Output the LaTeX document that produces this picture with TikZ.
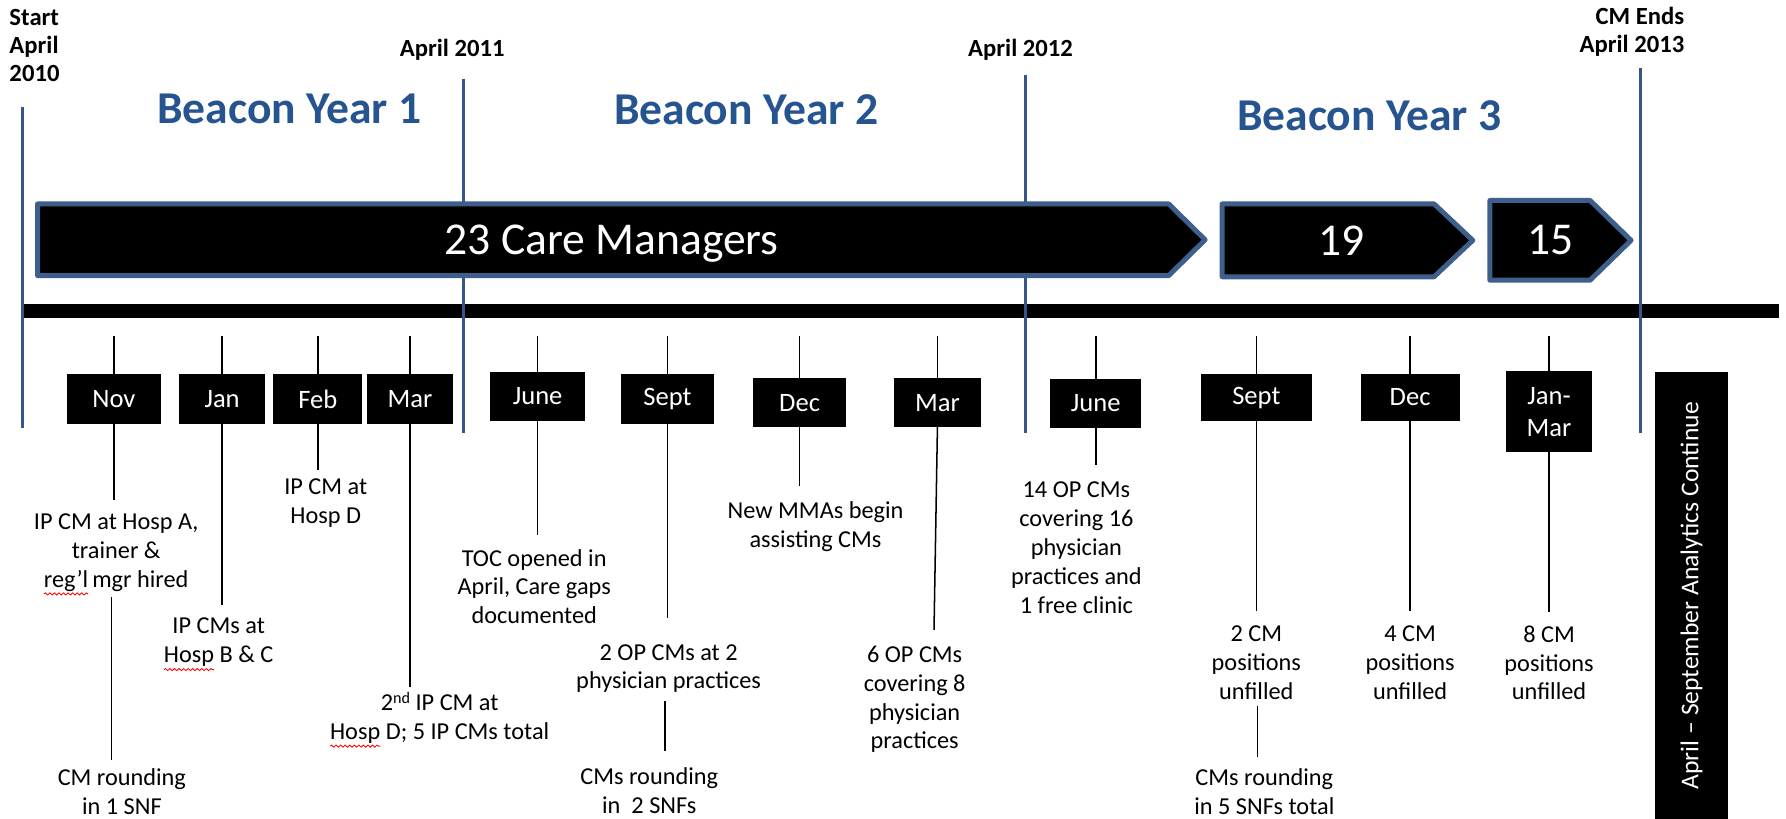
\documentclass[tikz,border=0pt]{standalone}
\usepackage{fontspec}
\setmainfont{Carlito}
\usetikzlibrary{calc,decorations.pathmorphing}
% red spell-check wave under a word
\newsavebox\wordbox
\newcommand\spellwave[1]{\sbox\wordbox{#1}\leavevmode\rlap{\tikz[overlay,baseline=0pt,x=1pt,y=1pt]
  \draw[red, line width=0.45pt, decorate, decoration={snake, amplitude=0.55pt, segment length=2.4pt}]
  (0,-3.6) -- (\wd\wordbox,-3.6);}\usebox\wordbox}
% ordinal suffix, raised a little
\newcommand\ordsuffix[1]{\raisebox{0.3em}{\fontsize{8.5}{9}\selectfont #1}}
\definecolor{yearblue}{RGB}{52,86,140}
\definecolor{titleblue}{RGB}{38,84,145}
\definecolor{edgeblue}{RGB}{62,95,140}

\begin{document}
\begin{tikzpicture}[x=0.6pt,y=-0.6pt,
  yearline/.style={draw=yearblue, line width=1.7pt},
  stem/.style={draw=black, line width=0.8pt},
  bw/.style={minimum width=#1*0.6pt},
  bh/.style={minimum height=#1*0.6pt},
  mon/.style={fill=black, text=white, inner sep=0pt, outer sep=0pt, align=center,
              font=\fontsize{14}{16.8}\selectfont},
  ev/.style={align=center, inner sep=0pt, font=\fontsize{12.8}{15.2}\selectfont},
  hdr/.style={inner sep=0pt, font=\fontsize{13}{14.7}\selectfont\bfseries},
  title/.style={inner sep=0pt, text=titleblue, font=\fontsize{24}{28}\selectfont\bfseries},
  cmarrow/.style={fill=black, draw=edgeblue, line width=2.6pt, line join=round},
  cmtext/.style={inner sep=0pt, text=white, font=\fontsize{24}{28}\selectfont}]
\useasboundingbox (0,0) rectangle (1568,719);

% timeline axis
\node[fill=black, inner sep=0pt, outer sep=0pt, bw=1542, bh=12] (axis) at (791,273) {};

% year boundaries
\coordinate (b0t) at (20,94);   \coordinate (b0b) at (20,376);
\coordinate (b1t) at (407,69);  \coordinate (b1b) at (407,380);
\coordinate (b2t) at (900,66);  \coordinate (b2b) at (900,380);
\coordinate (b3t) at (1440,60); \coordinate (b3b) at (1440,380);
\draw[yearline] (b0t) -- (b0b);
\draw[yearline] (b1t) -- (b1b);
\draw[yearline] (b2t) -- (b2b);
\draw[yearline] (b3t) -- (b3b);

% dates above the boundaries
\node[hdr, align=left, anchor=west] (start) at (8,40) {Start\\April\\2010};
\node[hdr] (apr11) at (397,44) {April 2011};
\node[hdr] (apr12) at (896,44) {April 2012};
\node[hdr, align=right, anchor=east] (cmend) at (1479,28) {CM Ends\\April 2013};

% year titles
\node[title] (yr1) at (254,96) {Beacon Year 1};
\node[title] (yr2) at (655,96) {Beacon Year 2};
\node[title] (yr3) at (1202,102) {Beacon Year 3};

% staffing arrows
\draw[cmarrow] (33,179) -- (1026,179) -- (1058,210.5) -- (1026,242) -- (33,242) -- cycle;
\node[cmtext] (cm23) at (537,214) {23 Care Managers};
\draw[cmarrow] (1073,179) -- (1259,179) -- (1293,211) -- (1259,243) -- (1073,243) -- cycle;
\node[cmtext] (cm19) at (1178,211) {19};
\draw[cmarrow] (1308,176) -- (1396,176) -- (1432,211) -- (1396,246) -- (1308,246) -- cycle;
\node[cmtext] (cm15) at (1361,211) {15};

\coordinate (tk) at (0,295);

% ---- year 1 ----
\node[mon, bw=82, bh=44] (nov) at (100,350.5) {Nov};
\draw[stem] (nov.north) -- (nov.north |- tk);
\coordinate (novE) at (100,439);
\draw[stem] (nov.south) -- (nov.south |- novE);
\node[ev] (novA) at (102,485) {IP CM at Hosp A,\\trainer \&\\\spellwave{reg’l}\,mgr hired};
\coordinate (nov2a) at (98,524); \coordinate (nov2b) at (98,667);
\draw[stem] (nov2a) -- (nov2b);
\node[ev] (novB) at (107,695) {CM rounding\\in 1 SNF};

\node[mon, bw=76, bh=44] (jan) at (195,350.5) {Jan};
\draw[stem] (jan.north) -- (jan.north |- tk);
\coordinate (janE) at (195,531);
\draw[stem] (jan.south) -- (jan.south |- janE);
\node[ev] (janA) at (192,564) {IP CMs at\\\spellwave{Hosp} B \& C};

\node[mon, bw=78, bh=44] (feb) at (279,350.5) {Feb};
\draw[stem] (feb.north) -- (feb.north |- tk);
\coordinate (febE) at (279,413);
\draw[stem] (feb.south) -- (feb.south |- febE);
\node[ev] (febA) at (286,442) {IP CM at\\Hosp D};

\node[mon, bw=76, bh=44] (mar) at (360,350.5) {Mar};
\draw[stem] (mar.north) -- (mar.north |- tk);
\coordinate (marE) at (360,603);
\draw[stem] (mar.south) -- (mar.south |- marE);
\node[ev] (marA) at (386,630) {2\ordsuffix{nd} IP CM at\\\spellwave{Hosp} D; 5 IP CMs total};

% ---- year 2 ----
\node[mon, bw=83, bh=43] (jun) at (472,348) {June};
\draw[stem] (jun.north) -- (jun.north |- tk);
\coordinate (junE) at (472,470);
\draw[stem] (jun.south) -- (jun.south |- junE);
\node[ev] (junA) at (469,515) {TOC opened in\\April, Care gaps\\documented};

\node[mon, bw=82, bh=44] (sep) at (586,350.5) {Sept};
\draw[stem] (sep.north) -- (sep.north |- tk);
\coordinate (sepE) at (586,543);
\draw[stem] (sep.south) -- (sep.south |- sepE);
\node[ev] (sepA) at (587,587) {2 OP CMs at 2\\physician practices};
\coordinate (sep2a) at (584,615); \coordinate (sep2b) at (584,659);
\draw[stem] (sep2a) -- (sep2b);
\node[ev] (sepB) at (570,694) {CMs rounding\\in\ \ 2 SNFs};

\node[mon, bw=81, bh=43] (dec) at (702,353.5) {Dec};
\draw[stem] (dec.north) -- (dec.north |- tk);
\coordinate (decE) at (702,427);
\draw[stem] (dec.south) -- (dec.south |- decE);
\node[ev] (decA) at (716,462) {New MMAs begin\\assisting CMs};

\node[mon, bw=77, bh=43] (mar2) at (823,353.5) {Mar};
\draw[stem] (mar2.north) -- (mar2.north |- tk);
\coordinate (mar2E) at (820,553);
\draw[stem] (mar2.south) -- (mar2E);
\node[ev] (mar2A) at (803,614) {6 OP CMs\\covering 8\\physician\\practices};

% ---- year 3 ----
\node[mon, bw=80, bh=43] (jun3) at (962,354) {June};
\draw[stem] (jun3.north) -- (jun3.north |- tk);
\coordinate (jun3E) at (962,408);
\draw[stem] (jun3.south) -- (jun3.south |- jun3E);
\node[ev] (jun3A) at (945,481) {14 OP CMs\\covering 16\\physician\\practices and\\1 free clinic};

\node[mon, bw=97, bh=42] (sep3) at (1103,349) {Sept};
\draw[stem] (sep3.north) -- (sep3.north |- tk);
\coordinate (sep3E) at (1103,536);
\draw[stem] (sep3.south) -- (sep3.south |- sep3E);
\node[ev] (sep3A) at (1103,582) {2 CM\\positions\\unfilled};
\coordinate (sep32a) at (1104,620); \coordinate (sep32b) at (1104,665);
\draw[stem] (sep32a) -- (sep32b);
\node[ev] (sep3B) at (1110,695) {CMs rounding\\in 5 SNFs total};

\node[mon, bw=87, bh=42] (dec3) at (1238,349) {Dec};
\draw[stem] (dec3.north) -- (dec3.north |- tk);
\coordinate (dec3E) at (1238,536);
\draw[stem] (dec3.south) -- (dec3.south |- dec3E);
\node[ev] (dec3A) at (1238,582) {4 CM\\positions\\unfilled};

\node[mon, bw=75, bh=71] (jm3) at (1360,361.5) {Jan-\\Mar};
\draw[stem] (jm3.north) -- (jm3.north |- tk);
\coordinate (jm3E) at (1360,537);
\draw[stem] (jm3.south) -- (jm3.south |- jm3E);
\node[ev] (jm3A) at (1360,582) {8 CM\\positions\\unfilled};

% follow-up period
\node[fill=black, text=white, inner sep=0pt, rotate=90, bw=392, bh=64,
      font=\fontsize{13.5}{16}\selectfont] (ana) at (1485,523)
      {April \textendash{} September Analytics Continue};
\end{tikzpicture}
\end{document}
